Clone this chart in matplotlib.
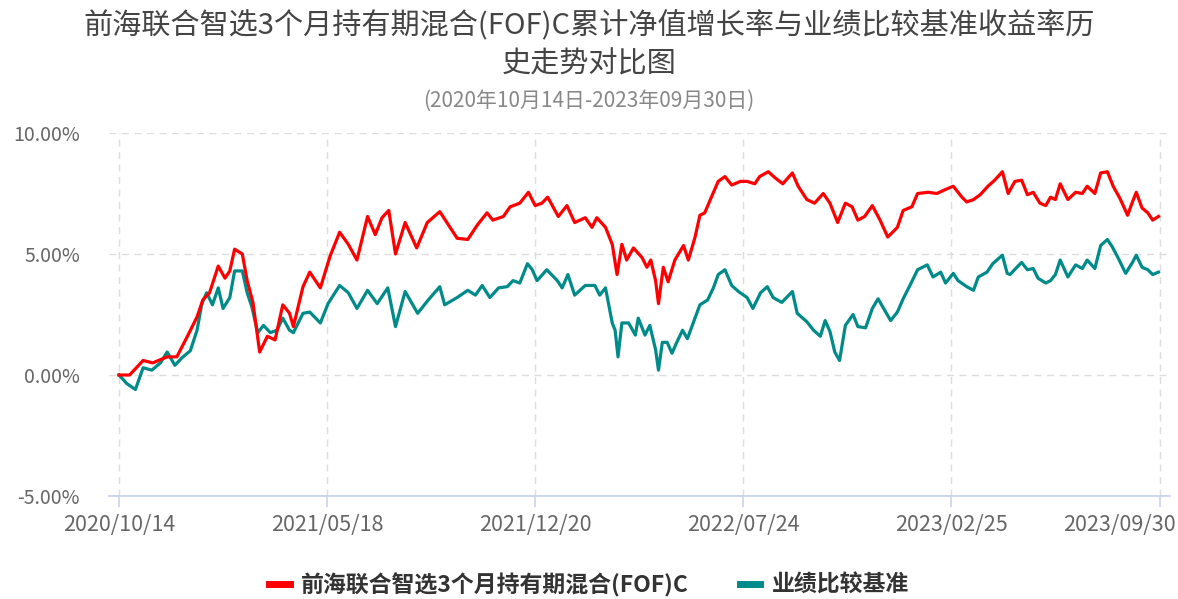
import matplotlib
matplotlib.use("Agg")
import matplotlib.pyplot as plt
import matplotlib.ticker as mticker
import matplotlib.transforms as mtransforms
import pandas as pd

plt.rcParams["font.family"] = ["Noto Sans CJK SC", "DejaVu Sans"]
plt.rcParams["axes.unicode_minus"] = False

title_1 = "前海联合智选3个月持有期混合(FOF)C累计净值增长率与业绩比较基准收益率历"
title_2 = "史走势对比图"
subtitle = "(2020年10月14日-2023年09月30日)"
fund_name = "前海联合智选3个月持有期混合(FOF)C"
bench_name = "业绩比较基准"

start_date = "2020-10-14"
tick_dates = ["2020-10-14", "2021-05-18", "2021-12-20", "2022-07-24", "2023-02-25", "2023-09-30"]
tick_labels = ["2020/10/14", "2021/05/18", "2021/12/20", "2022/07/24", "2023/02/25", "2023/09/30"]

# days since start, cumulative return (%)
fund_days = [0, 11, 25, 35, 50, 60, 71, 81, 87, 94, 103, 110, 115, 120, 128, 133, 139, 146,
             154, 162, 170, 177, 181, 191, 198, 209, 219, 229, 238, 247, 258, 266, 273, 280,
             287, 297, 309, 320, 333, 342, 351, 362, 372, 382, 388, 399, 406, 416, 425, 432,
             439, 445, 456, 465, 473, 484, 491, 496, 505, 512, 517, 522, 527, 534, 543, 548,
             552, 557, 560, 565, 570, 577, 586, 591, 598, 603, 608, 616, 622, 629, 636, 645,
             652, 660, 665, 674, 681, 689, 699, 705, 714, 722, 731, 738, 746, 754, 761, 767,
             774, 782, 790, 798, 808, 814, 823, 829, 840, 849, 857, 866, 875, 880, 887, 894,
             902, 909, 917, 923, 930, 937, 943, 949, 956, 962, 967, 972, 977, 985, 993, 1000,
             1005, 1013, 1019, 1026, 1032, 1039, 1047, 1052, 1056, 1062, 1068, 1073, 1079]
fund_vals = [0.0, 0.0, 0.6, 0.5, 0.75, 0.75, 1.6, 2.4, 3.1, 3.4, 4.5, 4.0, 4.3, 5.2, 5.0, 3.9, 3.0, 0.95,
             1.6, 1.45, 2.9, 2.55, 2.0, 3.65, 4.25, 3.6, 4.9, 5.9, 5.4, 4.75, 6.55, 5.8, 6.5, 6.8,
             5.0, 6.3, 5.25, 6.3, 6.75, 6.2, 5.65, 5.6, 6.2, 6.7, 6.4, 6.55, 6.95, 7.1, 7.55, 7.0,
             7.1, 7.35, 6.55, 7.0, 6.3, 6.5, 6.1, 6.5, 6.1, 5.4, 4.15, 5.4, 4.75, 5.25, 4.85, 4.45,
             4.75, 3.9, 2.95, 4.45, 3.85, 4.75, 5.35, 4.75, 5.7, 6.6, 6.7, 7.45, 8.0, 8.2, 7.85, 8.0,
             8.0, 7.9, 8.2, 8.4, 8.15, 7.9, 8.35, 7.8, 7.25, 7.1, 7.5, 7.1, 6.3, 7.1, 6.95, 6.4,
             6.55, 7.0, 6.4, 5.7, 6.1, 6.8, 6.95, 7.5, 7.55, 7.5, 7.65, 7.8, 7.35, 7.15, 7.25, 7.45,
             7.8, 8.05, 8.4, 7.5, 8.0, 8.05, 7.45, 7.55, 7.1, 7.0, 7.35, 7.25, 7.9, 7.25, 7.55, 7.5,
             7.8, 7.5, 8.35, 8.4, 7.8, 7.3, 6.6, 7.15, 7.55, 6.9, 6.7, 6.4, 6.55]

bench_days = [0, 8, 17, 25, 34, 43, 50, 58, 65, 74, 81, 86, 91, 97, 103, 108, 115, 120, 128, 133,
              138, 144, 150, 157, 164, 170, 177, 181, 191, 198, 209, 217, 229, 238, 247, 258, 268,
              279, 287, 297, 310, 321, 333, 338, 351, 362, 370, 377, 385, 394, 403, 409, 416, 424,
              429, 434, 444, 455, 460, 466, 473, 484, 494, 499, 505, 512, 515, 518, 522, 529, 536,
              539, 546, 551, 557, 560, 564, 569, 574, 579, 585, 590, 596, 603, 611, 617, 622, 629,
              636, 643, 652, 658, 666, 673, 679, 688, 699, 704, 714, 721, 728, 733, 738, 743, 748,
              754, 762, 767, 775, 782, 788, 793, 801, 808, 814, 821, 829, 839, 845, 853, 858, 866,
              871, 880, 887, 892, 901, 907, 917, 922, 925, 932, 937, 943, 949, 954, 962, 967, 972,
              977, 985, 993, 1000, 1005, 1013, 1019, 1026, 1031, 1037, 1045, 1052, 1056, 1062,
              1068, 1073, 1079]
bench_vals = [0.0, -0.35, -0.6, 0.3, 0.2, 0.5, 0.95, 0.4, 0.7, 1.0, 1.85, 2.95, 3.4, 2.9, 3.6, 2.75,
              3.2, 4.3, 4.3, 3.4, 2.8, 1.75, 2.05, 1.75, 1.85, 2.35, 1.85, 1.75, 2.55, 2.6, 2.15,
              2.95, 3.7, 3.4, 2.75, 3.5, 2.95, 3.6, 2.0, 3.45, 2.55, 3.1, 3.65, 2.9, 3.2, 3.5, 3.3,
              3.7, 3.2, 3.6, 3.65, 3.9, 3.8, 4.6, 4.35, 3.9, 4.35, 3.9, 3.6, 4.15, 3.3, 3.7, 3.7,
              3.3, 3.6, 2.15, 1.85, 0.75, 2.15, 2.15, 1.65, 2.35, 1.65, 2.05, 1.05, 0.2, 1.35, 1.35,
              0.9, 1.35, 1.85, 1.5, 2.15, 2.9, 3.1, 3.6, 4.15, 4.35, 3.7, 3.45, 3.2, 2.75, 3.4, 3.65,
              3.2, 3.0, 3.45, 2.55, 2.2, 1.85, 1.6, 2.25, 1.8, 0.95, 0.6, 2.05, 2.5, 2.0, 1.95, 2.75,
              3.15, 2.8, 2.25, 2.6, 3.15, 3.7, 4.35, 4.55, 4.05, 4.25, 3.8, 4.2, 3.9, 3.65, 3.5,
              4.05, 4.25, 4.6, 4.95, 4.2, 4.15, 4.45, 4.65, 4.35, 4.4, 4.0, 3.8, 3.9, 4.15, 4.75,
              4.05, 4.55, 4.4, 4.75, 4.4, 5.35, 5.6, 5.3, 4.85, 4.2, 4.65, 4.95, 4.45, 4.35, 4.15,
              4.25]

t0 = pd.Timestamp(start_date)
fund_dates = t0 + pd.to_timedelta(fund_days, unit="D")
bench_dates = t0 + pd.to_timedelta(bench_days, unit="D")
ticks = pd.to_datetime(tick_dates)

fig = plt.figure(figsize=(11.78, 5.99), dpi=100)
ax = fig.add_axes([109 / 1178, 1 - 496 / 599, (1170 - 109) / 1178, (496 - 133) / 599])

ax.plot(fund_dates, fund_vals, color="#ff0000", lw=2.3, label=fund_name, zorder=3)
ax.plot(bench_dates, bench_vals, color="#008b8b", lw=2.3, label=bench_name, zorder=2)

ax.set_ylim(-5, 10)
ax.set_yticks([-5, 0, 5, 10])
ax.yaxis.set_major_formatter(mticker.FuncFormatter(lambda v, p: f"{v:.2f}%"))
ax.set_xlim(t0 - pd.Timedelta(days=10.4), t0 + pd.Timedelta(days=1091))
ax.set_xticks(ticks)
ax.set_xticklabels(tick_labels)

ax.grid(True, color="#dddddd", linestyle=(0, (5, 4)), linewidth=1.0)
for s in ["top", "right", "left"]:
    ax.spines[s].set_visible(False)
ax.spines["bottom"].set_color("#c9d4ea")
ax.spines["bottom"].set_linewidth(1.3)
ax.tick_params(axis="x", colors="#c9d4ea", length=8, width=1.2, labelcolor="#666666",
               labelsize=15.5, pad=5)
ax.tick_params(axis="y", length=0, labelcolor="#666666", labelsize=14, pad=21)

# last date label is pulled left so it stays inside the picture
last = ax.get_xticklabels()[-1]
last.set_horizontalalignment("right")
last.set_transform(last.get_transform() + mtransforms.ScaledTranslation(0.15, 0, fig.dpi_scale_trans))

fig.text(0.5, 1 - 26 / 599, title_1, ha="center", va="center", fontsize=21, color="#444444")
fig.text(0.5, 1 - 64 / 599, title_2, ha="center", va="center", fontsize=21, color="#444444")
fig.text(0.5, 1 - 101 / 599, subtitle, ha="center", va="center", fontsize=15, color="#888888")

leg = fig.legend(loc="center", bbox_to_anchor=(0.5, 1 - 585 / 599), ncol=2, frameon=False,
                 handlelength=0.9, handletextpad=0.5, columnspacing=2.2,
                 prop={"size": 16.5, "weight": "bold"})
for h in leg.legend_handles:
    h.set_linewidth(5)
for t in leg.get_texts():
    t.set_color("#333333")

fig.savefig("out.png", dpi=100)
